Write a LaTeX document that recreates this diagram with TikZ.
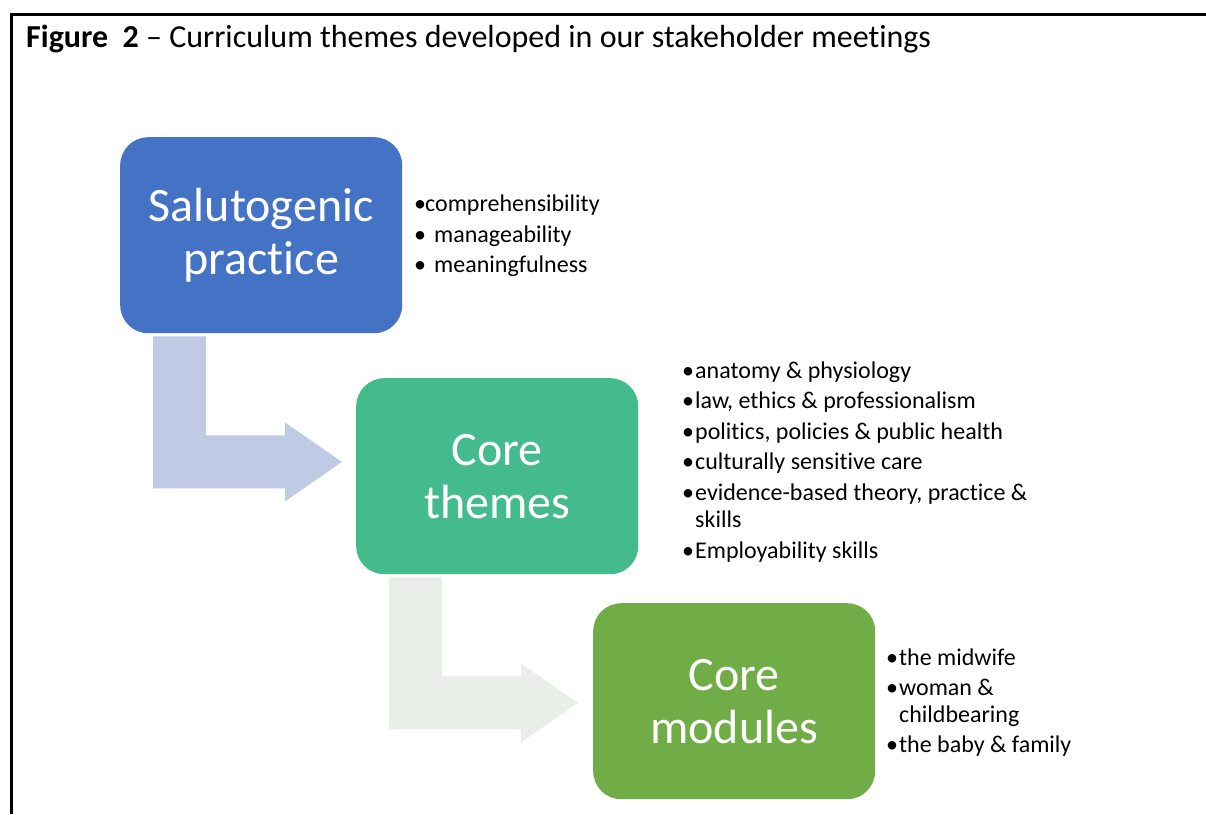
\documentclass[tikz,border=0pt]{standalone}
\usepackage{fontspec}
\setmainfont[Ligatures={TeX,NoCommon}]{Carlito}
\definecolor{themeblue}{RGB}{68,114,196}
\definecolor{themeteal}{RGB}{68,187,141}
\definecolor{themegreen}{RGB}{112,173,71}
\definecolor{arrowblue}{RGB}{192,202,228}
\definecolor{arrowgrey}{RGB}{234,238,232}
% bullet set in a box of fixed width, so the item text starts at a hanging indent
\newcommand\bul[1]{\makebox[#1][l]{•}}

\begin{document}
\begin{tikzpicture}[x=1pt,y=-1pt,
  theme/.style={fill=#1, rounded corners=28pt, minimum width=282pt,
    minimum height=196pt, inner sep=0pt, text=white, align=center,
    font=\fontsize{48}{53}\selectfont, anchor=north west},
  item/.style={anchor=base west, inner sep=0pt, font=\fontsize{24}{28}\selectfont},
  pics/bentarrow/.style={code={
    \fill[#1] (33,3) -- (86,3) -- (86,102) -- (165,102) -- (165,89)
      -- (222,128.5) -- (165,168) -- (165,155) -- (33,155) -- cycle;}}
]
\useasboundingbox (0,0) rectangle (1206,814);

% frame of the table cell
\draw[line width=3pt] (11,814) -- (11,14) -- (1206,14);

% caption
\node[anchor=base west, inner sep=0pt, font=\fontsize{32}{38}\selectfont]
  (title) at (26,47) {\textbf{Figure\ \ 2} – Curriculum themes developed in our stakeholder meetings};

% the three themes
\node[theme=themeblue]  (sal)  at (120,137) {Salutogenic\\practice};
\node[theme=themeteal]  (core) at (356,378) {Core\\themes};
\node[theme=themegreen] (mod)  at (593,603) {Core\\modules};

% bent arrows leading from one theme to the next
\pic at (sal.south west)  {bentarrow=arrowblue};
\pic at (core.south west) {bentarrow=arrowgrey};

% salutogenic practice
\node[item] (s1) at (414,211) {\bul{11pt}comprehensibility};
\node[item] (s2) at (414,242) {\bul{20pt}manageability};
\node[item] (s3) at (414,272) {\bul{20pt}meaningfulness};

% core themes
\node[item] (c1) at (682,378)   {\bul{13pt}anatomy \& physiology};
\node[item] (c2) at (682,408.5) {\bul{13pt}law, ethics \& professionalism};
\node[item] (c3) at (682,439)   {\bul{13pt}politics, policies \& public health};
\node[item] (c4) at (682,469.5) {\bul{13pt}culturally sensitive care};
\node[item] (c5) at (682,500)   {\bul{13pt}evidence-based theory, practice \&};
\node[item] (c6) at (695,527)   {skills};
\node[item] (c7) at (682,558)   {\bul{13pt}Employability skills};

% core modules
\node[item] (m1) at (886,665) {\bul{13pt}the midwife};
\node[item] (m2) at (886,695) {\bul{13pt}woman \&};
\node[item] (m3) at (899,722) {childbearing};
\node[item] (m4) at (886,752) {\bul{13pt}the baby \& family};
\end{tikzpicture}
\end{document}
